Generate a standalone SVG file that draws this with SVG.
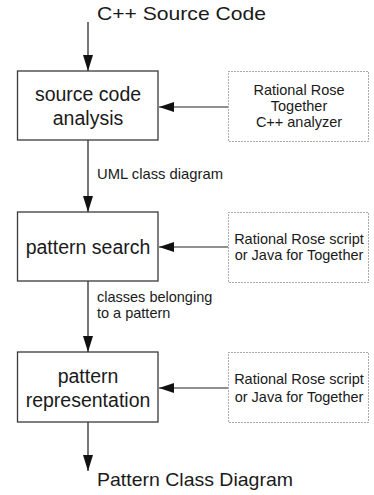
<svg xmlns="http://www.w3.org/2000/svg" width="374" height="495" viewBox="0 0 374 495">
  <style>
    text { font-family: "Liberation Sans", Arial, Helvetica, sans-serif; fill: #1a1a1a; }
    .title { font-size: 18.5px; }
    .step { font-size: 19.5px; text-anchor: middle; }
    .tool { font-size: 14.5px; text-anchor: middle; }
    .flow { font-size: 14.5px; }
    .box { fill: #ffffff; stroke: #3a3a3a; stroke-width: 1.3; }
    .toolbox { fill: #ffffff; stroke: #555555; stroke-width: 1; stroke-dasharray: 1 2; }
    .vline { stroke: #555555; stroke-width: 1.6; fill: none; }
    .hline { stroke: #222222; stroke-width: 1.1; fill: none; }
  </style>
  <defs>
    <marker id="headV" viewBox="0 0 16 10" refX="16" refY="5" markerWidth="16" markerHeight="10" markerUnits="userSpaceOnUse" orient="auto">
      <path d="M0,0 L16,5 L0,10 Z" fill="#111111"/>
    </marker>
    <marker id="headH" viewBox="0 0 15 10" refX="15" refY="5" markerWidth="15" markerHeight="10" markerUnits="userSpaceOnUse" orient="auto">
      <path d="M0,0 L15,5 L0,10 Z" fill="#111111"/>
    </marker>
  </defs>

  <!-- connectors -->
  <g id="connectors">
    <line class="vline" x1="88" y1="22" x2="88" y2="71" marker-end="url(#headV)"/>
    <line class="vline" x1="88" y1="140" x2="88" y2="212" marker-end="url(#headV)"/>
    <line class="vline" x1="88" y1="281" x2="88" y2="352" marker-end="url(#headV)"/>
    <line class="vline" x1="88" y1="422" x2="88" y2="471" marker-end="url(#headV)"/>
    <line class="hline" x1="228" y1="107" x2="159" y2="107" marker-end="url(#headH)"/>
    <line class="hline" x1="228" y1="247" x2="159" y2="247" marker-end="url(#headH)"/>
    <line class="hline" x1="228" y1="388" x2="159" y2="388" marker-end="url(#headH)"/>
    <text class="flow" x="97" y="179" textLength="126" lengthAdjust="spacingAndGlyphs">UML class diagram</text>
    <text class="flow" x="97" y="302">classes belonging</text>
    <text class="flow" x="97" y="317.5">to a pattern</text>
  </g>

  <!-- input / output -->
  <g id="input">
    <text class="title" x="97" y="20" textLength="169" lengthAdjust="spacingAndGlyphs">C++ Source Code</text>
  </g>
  <g id="output">
    <text class="title" x="97" y="486" textLength="196" lengthAdjust="spacingAndGlyphs">Pattern Class Diagram</text>
  </g>

  <!-- processing steps -->
  <g id="analysis">
    <rect class="box" x="17.5" y="71" width="140.5" height="69"/>
    <text class="step" x="88" y="101">source code</text>
    <text class="step" x="88" y="125">analysis</text>
  </g>
  <g id="search">
    <rect class="box" x="17.5" y="212" width="140.5" height="69"/>
    <text class="step" x="88" y="254">pattern search</text>
  </g>
  <g id="representation">
    <rect class="box" x="17.5" y="352" width="140.5" height="70"/>
    <text class="step" x="88" y="383">pattern</text>
    <text class="step" x="88" y="407">representation</text>
  </g>

  <!-- tools -->
  <g id="tool-analyzer">
    <rect class="toolbox" x="228.5" y="71.5" width="140" height="70"/>
    <text class="tool" x="299" y="94.5">Rational Rose</text>
    <text class="tool" x="299" y="110.5">Together</text>
    <text class="tool" x="299" y="126.5">C++ analyzer</text>
  </g>
  <g id="tool-search">
    <rect class="toolbox" x="228.5" y="212.5" width="140" height="70"/>
    <text class="tool" x="299" y="243.5">Rational Rose script</text>
    <text class="tool" x="299" y="260">or Java for Together</text>
  </g>
  <g id="tool-representation">
    <rect class="toolbox" x="228.5" y="352.5" width="140" height="70"/>
    <text class="tool" x="299" y="384">Rational Rose script</text>
    <text class="tool" x="299" y="401.5">or Java for Together</text>
  </g>
</svg>
